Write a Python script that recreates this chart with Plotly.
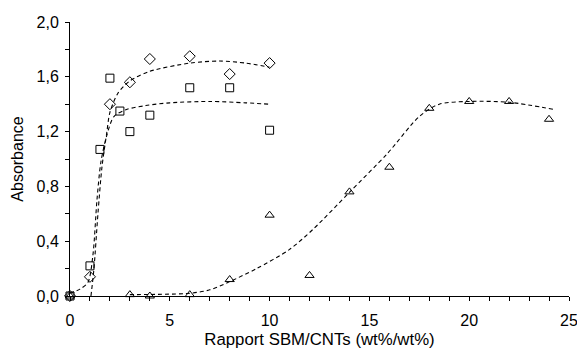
import plotly.graph_objects as go

# Data
diamond_x = [0, 1, 2, 3, 4, 6, 8, 10]
diamond_y = [0.0, 0.14, 1.40, 1.56, 1.73, 1.75, 1.62, 1.70]

square_x = [0, 1, 1.5, 2, 2.5, 3, 4, 6, 8, 10]
square_y = [0.0, 0.22, 1.07, 1.59, 1.35, 1.20, 1.32, 1.52, 1.52, 1.21]

triangle_x = [0, 3, 4, 6, 8, 10, 12, 14, 16, 18, 20, 22, 24]
triangle_y = [0.0, 0.01, 0.0, 0.01, 0.12, 0.59, 0.15, 0.76, 0.94, 1.37, 1.42, 1.42, 1.29]

# Trend curves
diamond_fit_x = [1.05, 1.2, 1.4, 1.6, 1.84, 2.0, 2.4, 3.0, 4.0, 6.0, 7.5, 8.8, 10.0]
diamond_fit_y = [0.0, 0.2, 0.6, 0.94, 1.19, 1.34, 1.48, 1.57, 1.64, 1.70, 1.715, 1.70, 1.67]

square_fit_x = [0.0, 0.5, 0.9, 1.15, 1.35, 1.55, 1.84, 2.2, 2.8, 3.8, 5.0, 7.0, 8.8, 10.0]
square_fit_y = [0.02, 0.05, 0.1, 0.3, 0.7, 0.98, 1.17, 1.31, 1.36, 1.39, 1.41, 1.42, 1.41, 1.40]

triangle_fit_x = [3.0, 6.0, 7.0, 8.0, 9.35, 11.0, 12.2, 14.0, 15.9, 17.5, 18.5, 20.0, 22.0, 24.3]
triangle_fit_y = [0.01, 0.02, 0.045, 0.105, 0.2, 0.34, 0.49, 0.757, 1.04, 1.31, 1.40, 1.42, 1.414, 1.36]

y_tickvals = [0, 0.4, 0.8, 1.2, 1.6, 2.0]
y_ticktext = ["0,0", "0,4", "0,8", "1,2", "1,6", "2,0"]
x_tickvals = [0, 5, 10, 15, 20, 25]
x_ticktext = ["0", "5", "10", "15", "20", "25"]

fig = go.Figure()

dash_line = dict(color="black", width=1.1, dash="4px,3px")
for fx, fy in [(diamond_fit_x, diamond_fit_y), (square_fit_x, square_fit_y), (triangle_fit_x, triangle_fit_y)]:
    fig.add_trace(go.Scatter(x=fx, y=fy, mode="lines", line=dict(shape="spline", smoothing=0.8, **dash_line),
                             showlegend=False, hoverinfo="skip", cliponaxis=False))

mk_line = dict(color="black", width=1)
fig.add_trace(go.Scatter(x=diamond_x, y=diamond_y, mode="markers",
                         marker=dict(symbol="diamond-open", size=8.5, color="black", line=mk_line),
                         showlegend=False, cliponaxis=False))
fig.add_trace(go.Scatter(x=square_x, y=square_y, mode="markers",
                         marker=dict(symbol="square-open", size=8, color="black", line=mk_line),
                         showlegend=False, cliponaxis=False))
fig.add_trace(go.Scatter(x=triangle_x, y=triangle_y, mode="markers",
                         marker=dict(symbol="triangle-up-open", size=8, color="black", line=mk_line),
                         showlegend=False, cliponaxis=False))

font = dict(family="Liberation Sans, Arial, sans-serif", size=16, color="black")
tfont = dict(family="Liberation Sans, Arial, sans-serif", size=16.8, color="black")

fig.update_layout(
    width=577, height=356,
    margin=dict(l=70, r=8, t=22, b=60, autoexpand=False),
    paper_bgcolor="white", plot_bgcolor="white",
    font=font,
    xaxis=dict(range=[0, 25], showgrid=False, zeroline=False, showline=True, linecolor="black", linewidth=1,
               ticks="outside", ticklen=4, tickcolor="black", tickvals=x_tickvals, ticktext=x_ticktext,
               minor=dict(dtick=1, tick0=0, ticks="outside", ticklen=4, tickcolor="black", showgrid=False),
               title=dict(text="Rapport SBM/CNTs (wt%/wt%)", font=tfont, standoff=5),
               tickfont=font, automargin=False, ticklabeloverflow="allow", ticklabelstandoff=6),
    yaxis=dict(range=[0, 2.0], showgrid=False, zeroline=False, showline=True, linecolor="black", linewidth=1,
               ticks="outside", ticklen=4, tickcolor="black", tickvals=y_tickvals, ticktext=y_ticktext,
               minor=dict(dtick=0.2, tick0=0, ticks="outside", ticklen=4, tickcolor="black", showgrid=False),
               title=dict(text="Absorbance", font=font, standoff=8),
               tickfont=font, automargin=False, ticklabeloverflow="allow", ticklabelstandoff=3),
)

fig.write_html("out.html", config={"displayModeBar": False},
               post_script="document.body.style.margin='0';document.body.style.overflow='hidden';")
